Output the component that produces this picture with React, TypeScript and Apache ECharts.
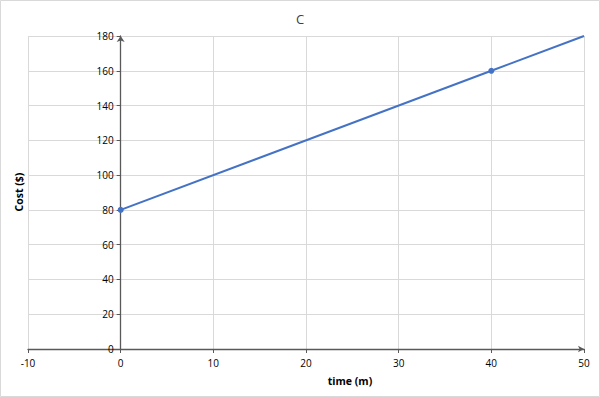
import React, { useEffect, useRef } from "react";
import * as echarts from "echarts";

const timeValues = [0, 40, 50];
const costValues = [80, 160, 180];
const markerShown = [true, true, false];

export default function App() {
  const ref = useRef<HTMLDivElement>(null);
  useEffect(() => {
    document.body.style.margin = "0";
    const chart = echarts.init(ref.current!, null, { renderer: "svg" });
    const font = "'Open Sans', 'Liberation Sans', sans-serif";
    const gridLeft = 28;
    const gridRight = 16;
    const xMin = -10;
    const xMax = 50;
    const plotW = 600 - gridLeft - gridRight;
    const yAxisOffset = -((0 - xMin) / (xMax - xMin)) * plotW;
    const data = timeValues.map((t, i) => ({
      value: [t, costValues[i]],
      symbolSize: markerShown[i] ? 6 : 0,
    }));
    chart.setOption({
      animation: false,
      backgroundColor: "#ffffff",
      title: {
        text: "C",
        left: "center",
        top: 7,
        textStyle: { fontFamily: font, fontSize: 13, fontWeight: "normal", color: "#404040" },
      },
      grid: { left: gridLeft, right: gridRight, top: 36, bottom: 48 },
      xAxis: {
        type: "value",
        min: xMin,
        max: xMax,
        interval: 10,
        axisLine: {
          onZero: true,
          symbol: ["none", "arrow"],
          symbolSize: [5, 6],
          lineStyle: { color: "#595959", width: 1.3 },
        },
        axisTick: { show: true, length: 4, lineStyle: { color: "#595959" } },
        axisLabel: { fontFamily: font, fontSize: 10, color: "#000", margin: 9 },
        splitLine: { show: true, lineStyle: { color: "#d9d9d9" } },
      },
      yAxis: {
        type: "value",
        min: 0,
        max: 180,
        interval: 20,
        offset: yAxisOffset,
        axisLine: {
          show: true,
          onZero: false,
          symbol: ["none", "arrow"],
          symbolSize: [6, 6],
          lineStyle: { color: "#595959", width: 1.3 },
        },
        axisTick: { show: true, length: 4, lineStyle: { color: "#595959" } },
        axisLabel: { fontFamily: font, fontSize: 10, color: "#000", margin: 7 },
        splitLine: { show: true, lineStyle: { color: "#d9d9d9" } },
      },
      series: [
        {
          type: "line",
          data,
          symbol: "circle",
          showAllSymbol: true,
          itemStyle: { color: "#4472c4" },
          lineStyle: { color: "#4472c4", width: 2 },
        },
      ],
      graphic: [
        {
          type: "rect",
          shape: { x: 0.5, y: 0.5, width: 599, height: 396 },
          style: { fill: "none", stroke: "#d9d9d9", lineWidth: 1 },
          silent: true,
        },
        {
          type: "text",
          x: 350,
          y: 381,
          style: {
            text: "time (m)",
            fontFamily: font,
            fontSize: 10.5,
            fontWeight: "bold",
            fill: "#000",
            align: "center",
            verticalAlign: "middle",
          },
        },
        {
          type: "text",
          x: 19,
          y: 192,
          rotation: Math.PI / 2,
          style: {
            text: "Cost ($)",
            fontFamily: font,
            fontSize: 10.5,
            fontWeight: "bold",
            fill: "#000",
            align: "center",
            verticalAlign: "middle",
          },
        },
      ],
    });
    return () => chart.dispose();
  }, []);
  return (
    <div
      ref={ref}
      style={{ position: "absolute", left: 0, top: 0, width: 600, height: 397 }}
    />
  );
}
